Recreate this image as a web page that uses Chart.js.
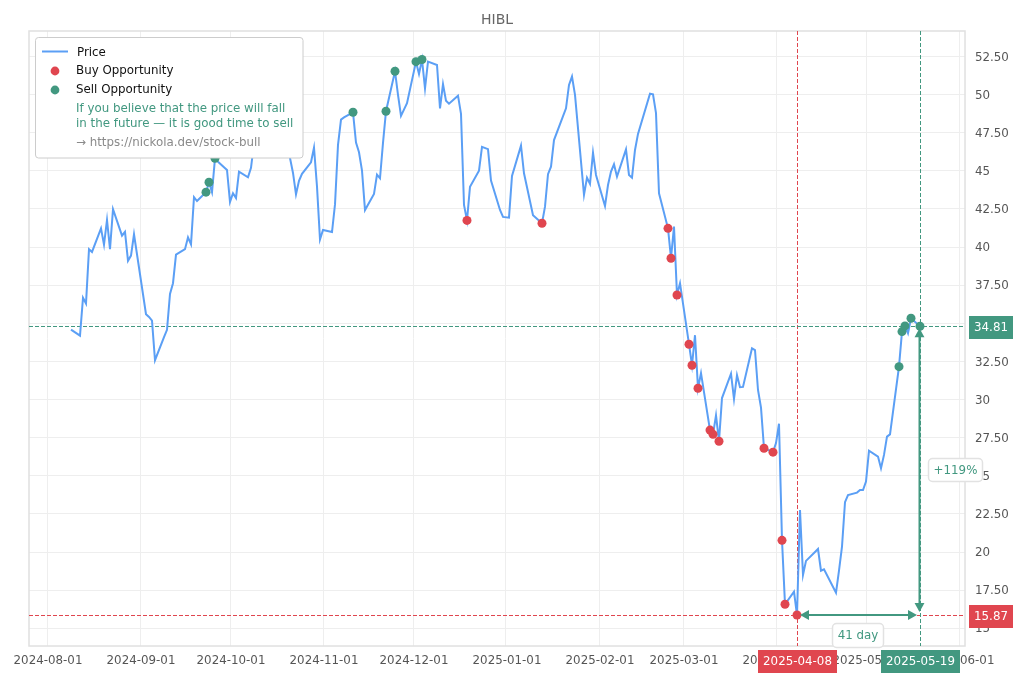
<!DOCTYPE html>
<html>
<head>
<meta charset="utf-8">
<style>html,body{margin:0;padding:0;background:#fff}#wrap{width:1020px;height:680px}canvas{display:block}</style>
<script src="https://cdn.jsdelivr.net/npm/chart.js@4"></script>
</head>
<body>
<div id="wrap"><canvas id="c" width="1020" height="680"></canvas></div>
<script>
const chartTitle = "HIBL";
const startDate = "2024-08-01";
// trading day, counted in calendar days since startDate
const priceDays = [8,11,12,13,14,15,18,19,20,21,22,25,26,27,28,29,33,34,35,36,39,40,41,42,43,46,47,48,49,50,53,54,55,56,57,60,61,62,63,64,67,68,69,70,71,74,75,76,77,78,81,82,83,84,85,88,89,90,91,92,95,96,97,98,99,102,103,104,105,106,109,110,111,112,113,116,117,118,120,123,124,125,126,127,130,131,132,133,134,137,138,139,140,141,144,145,147,148,151,152,154,155,158,159,160,162,165,166,167,168,169,173,174,175,176,179,180,181,182,183,186,187,188,189,190,193,194,195,196,197,201,202,203,204,207,208,209,210,211,214,215,216,217,218,221,222,223,224,225,228,229,230,231,232,235,236,237,238,239,242,243,244,245,246,249,250,251,252,253,256,257,258,259,263,264,265,266,267,270,271,272,273,274,277,278,279,280,281,284,285,286,287,288,291];
const priceValues = [34.59,34.19,36.68,36.3,39.86,39.68,41.23,40.16,41.78,39.86,42.48,40.75,41.0,39.1,39.44,40.84,35.6,35.42,35.18,32.58,34.1,34.57,36.93,37.63,39.5,39.86,40.64,40.18,43.27,43.02,43.6,44.25,43.6,45.82,45.6,45.06,42.96,43.53,43.22,44.95,44.58,45.2,46.8,47.8,48.3,48.0,48.9,49.6,49.2,47.6,45.84,44.86,43.46,44.34,44.8,45.56,46.52,43.96,40.5,41.12,40.99,42.8,46.7,48.36,48.5,48.84,46.85,46.22,45.01,42.43,43.48,44.75,44.51,46.83,48.91,51.53,49.98,48.6,49.43,52.16,51.35,52.3,50.41,52.16,51.94,49.1,50.68,49.6,49.4,49.93,48.73,42.76,41.75,43.96,45.01,46.57,46.42,44.36,42.43,41.98,41.93,44.66,46.65,44.84,43.92,42.09,41.56,42.65,44.78,45.27,47.02,49.1,50.63,51.18,49.98,43.42,44.55,44.14,46.19,44.73,42.7,44.07,44.95,45.43,44.62,46.41,44.73,44.55,46.37,47.42,50.06,50.02,48.78,43.53,41.23,39.27,41.34,36.86,37.63,33.63,32.25,34.22,30.74,31.73,28.0,27.72,28.97,27.27,30.1,31.7,30.04,31.6,30.81,30.83,33.36,33.25,30.63,29.47,26.81,26.55,27.15,28.42,20.77,16.58,17.4,15.87,22.76,18.5,19.42,20.0,20.2,18.78,18.87,17.34,18.78,20.36,23.27,23.74,23.9,24.07,24.07,24.62,26.65,26.26,25.5,26.37,27.57,27.72,32.16,34.46,34.83,34.35,35.33,34.81];
const buyDays = [140,165,207,208,210,214,215,217,221,222,224,239,242,245,246,250];
const buyValues = [41.75,41.56,41.23,39.27,36.86,33.63,32.25,30.74,28.0,27.72,27.27,26.81,26.55,20.77,16.58,15.87];
const sellDays = [53,54,56,102,113,116,123,125,284,285,286,288,291];
const sellValues = [43.6,44.25,45.82,48.84,48.91,51.53,52.16,52.3,32.16,34.46,34.83,35.33,34.81];
const xTickLabels = ["2024-08-01","2024-09-01","2024-10-01","2024-11-01","2024-12-01","2025-01-01","2025-02-01","2025-03-01","2025-04-01","2025-05-01","2025-06-01"];
const yTickValues = [15,17.5,20,22.5,25,27.5,30,32.5,35,37.5,40,42.5,45,47.5,50,52.5];
const buyPrice = 15.87, sellPrice = 34.81;
const buyDate = "2025-04-08", sellDate = "2025-05-19";
const gainLabel = "+119%", spanLabel = "41 day";
const legendLabels = ["Price","Buy Opportunity","Sell Opportunity"];
const legendNote = ["If you believe that the price will fall","in the future \u2014 it is good time to sell"];
const legendLink = "\u2192 https://nickola.dev/stock-bull";

const GREEN = "#429880", RED = "#e0464f", BLUE = "#5b9ff5";
const FONT = '"DejaVu Sans"';
const FS = 11.85;
const DAY = 86400000;
const toDay = s => Math.round((Date.parse(s) - Date.parse(startDate)) / DAY);
const pairs = (xs, ys) => xs.map((x, i) => ({x, y: ys[i]}));
const snap = v => Math.round(v - 0.5) + 0.5;

function roundRect(ctx, x, y, w, h, r) {
  ctx.beginPath();
  ctx.roundRect(x, y, w, h, r);
}
function tag(ctx, text, cx, cy, w, h, bg) {
  ctx.fillStyle = bg;
  ctx.fillRect(cx - w / 2, cy - h / 2, w, h);
  ctx.fillStyle = "#fff";
  ctx.font = FS + "px " + FONT;
  ctx.textAlign = "center";
  ctx.textBaseline = "middle";
  ctx.fillText(text, cx, cy + 0.5);
}
function bubble(ctx, text, x, y, w, h) {
  roundRect(ctx, x, y, w, h, 4);
  ctx.fillStyle = "#fff";
  ctx.fill();
  ctx.strokeStyle = "#e2e2e2";
  ctx.lineWidth = 1.5;
  ctx.stroke();
  ctx.fillStyle = GREEN;
  ctx.font = FS + "px " + FONT;
  ctx.textAlign = "center";
  ctx.textBaseline = "middle";
  ctx.fillText(text, x + w / 2, y + h / 2 + 0.5);
}
function triangle(ctx, x, y, dx, dy, size) {
  const bx = x - dx * size, by = y - dy * size;
  const half = size * 0.55;
  ctx.beginPath();
  ctx.moveTo(x, y);
  ctx.lineTo(bx - dy * half, by - dx * half);
  ctx.lineTo(bx + dy * half, by + dx * half);
  ctx.closePath();
  ctx.fill();
}

const overlay = {
  id: "overlay",
  beforeDatasetsDraw(chart) {
    const {ctx, chartArea: a, scales: {x, y}} = chart;
    const xb = snap(x.getPixelForValue(toDay(buyDate))), xs = snap(x.getPixelForValue(toDay(sellDate)));
    const yb = snap(y.getPixelForValue(buyPrice)), ys = snap(y.getPixelForValue(sellPrice));
    ctx.save();
    ctx.lineWidth = 1.5;
    ctx.strokeStyle = "#e0e0e0";
    ctx.strokeRect(a.left, a.top, a.right - a.left, a.bottom - a.top);
    ctx.lineWidth = 1;
    ctx.setLineDash([4, 2]);
    ctx.strokeStyle = RED;
    ctx.beginPath();
    ctx.moveTo(a.left, yb); ctx.lineTo(a.right, yb);
    ctx.moveTo(xb, a.top); ctx.lineTo(xb, a.bottom);
    ctx.stroke();
    ctx.strokeStyle = GREEN;
    ctx.beginPath();
    ctx.moveTo(a.left, ys); ctx.lineTo(a.right, ys);
    ctx.moveTo(xs, a.top); ctx.lineTo(xs, a.bottom);
    ctx.stroke();
    ctx.restore();
  },
  afterDraw(chart) {
    const {ctx, scales: {x, y}} = chart;
    const xb = x.getPixelForValue(toDay(buyDate)), xs = x.getPixelForValue(toDay(sellDate));
    const yb = y.getPixelForValue(buyPrice), ys = y.getPixelForValue(sellPrice);
    ctx.save();
    ctx.strokeStyle = GREEN;
    ctx.fillStyle = GREEN;
    ctx.lineWidth = 2;
    ctx.beginPath();
    ctx.moveTo(xb + 6, yb); ctx.lineTo(xs - 6, yb);
    ctx.moveTo(xs - 0.5, ys + 6); ctx.lineTo(xs - 0.5, yb - 6);
    ctx.stroke();
    triangle(ctx, xb + 3, yb, -1, 0, 9);
    triangle(ctx, xs - 3, yb, 1, 0, 9);
    triangle(ctx, xs - 0.5, ys + 2, 0, -1, 9);
    triangle(ctx, xs - 0.5, yb - 3, 0, 1, 9);
    bubble(ctx, gainLabel, 928.5, 458.5, 54, 23);
    bubble(ctx, spanLabel, 832.5, 623.5, 51, 24);
    tag(ctx, sellPrice.toFixed(2), 991, 327.5, 44, 23, GREEN);
    tag(ctx, buyPrice.toFixed(2), 991, 616.5, 44, 23, RED);
    tag(ctx, buyDate, 797.5, 661.5, 79, 23, RED);
    tag(ctx, sellDate, 920.5, 661.5, 79, 23, GREEN);
    roundRect(ctx, 35.5, 37.5, 267.5, 120.5, 3);
    ctx.fillStyle = "#fff";
    ctx.fill();
    ctx.strokeStyle = "#cccccc";
    ctx.lineWidth = 1;
    ctx.stroke();
    ctx.strokeStyle = BLUE;
    ctx.lineWidth = 2;
    ctx.beginPath(); ctx.moveTo(42, 51.5); ctx.lineTo(68, 51.5); ctx.stroke();
    ctx.fillStyle = RED;
    ctx.beginPath(); ctx.arc(55, 71, 4.4, 0, Math.PI * 2); ctx.fill();
    ctx.fillStyle = GREEN;
    ctx.beginPath(); ctx.arc(55, 90, 4.4, 0, Math.PI * 2); ctx.fill();
    ctx.textAlign = "left";
    ctx.textBaseline = "middle";
    ctx.font = FS + "px " + FONT;
    ctx.fillStyle = "#111";
    ctx.fillText(legendLabels[0], 77, 52.5);
    ctx.fillText(legendLabels[1], 76, 70.5);
    ctx.fillText(legendLabels[2], 76, 89.5);
    ctx.fillStyle = GREEN;
    ctx.fillText(legendNote[0], 76, 108.5);
    ctx.fillText(legendNote[1], 76, 123.5);
    ctx.fillStyle = "#8a8a8a";
    ctx.fillText(legendLink, 76, 142.5);
    ctx.restore();
  }
};

new Chart(document.getElementById("c"), {
  type: "scatter",
  data: {
    datasets: [
      {label: legendLabels[0], data: pairs(priceDays, priceValues), showLine: true, borderColor: BLUE, backgroundColor: BLUE, borderWidth: 2, pointRadius: 0, tension: 0, order: 3},
      {label: legendLabels[1], data: pairs(buyDays, buyValues), showLine: false, backgroundColor: RED, borderColor: RED, pointRadius: 4.5, pointBorderWidth: 0, order: 2},
      {label: legendLabels[2], data: pairs(sellDays, sellValues), showLine: false, backgroundColor: GREEN, borderColor: GREEN, pointRadius: 4.5, pointBorderWidth: 0, order: 1}
    ]
  },
  plugins: [overlay],
  options: {
    responsive: false,
    animation: false,
    layout: {padding: {left: 29}},
    plugins: {
      legend: {display: false},
      tooltip: {enabled: false},
      title: {display: true, text: chartTitle, fullSize: false, color: "#666", font: {family: FONT, size: 14, weight: "normal", lineHeight: 1.2}, padding: {top: 12, bottom: 2.2}}
    },
    scales: {
      x: {
        type: "linear",
        min: -6, max: 306,
        afterBuildTicks: s => { s.ticks = xTickLabels.map(t => ({value: toDay(t), label: t})); },
        afterFit: s => { s.height = 34; },
        grid: {color: "#eeeeee", lineWidth: 1, drawTicks: false},
        border: {display: false},
        ticks: {autoSkip: false, maxRotation: 0, minRotation: 0, padding: 8, labelOffset: 1, color: "#555", font: {family: FONT, size: FS},
          callback: (v) => new Date(Date.parse(startDate) + v * DAY).toISOString().slice(0, 10)}
      },
      y: {
        position: "right",
        min: 13.84, max: 54.17,
        afterBuildTicks: s => { s.ticks = yTickValues.map(v => ({value: v})); },
        afterFit: s => { s.width = 55; },
        grid: {color: "#eeeeee", lineWidth: 1, drawTicks: false},
        border: {display: false},
        ticks: {padding: 10, labelOffset: 1, color: "#555", font: {family: FONT, size: FS}, align: "center", crossAlign: "near",
          callback: v => Number.isInteger(v) ? String(v) : v.toFixed(2)}
      }
    }
  }
});
</script>
</body>
</html>
